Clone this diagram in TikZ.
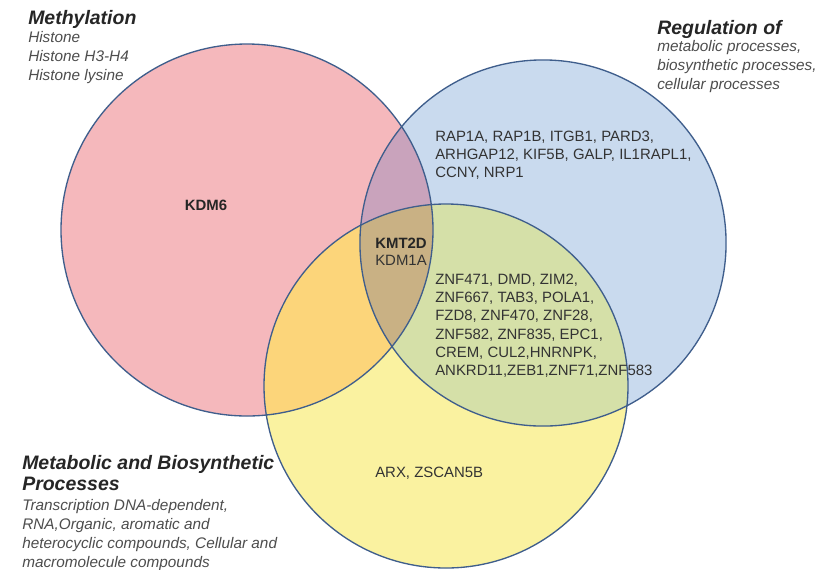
\documentclass[tikz,border=0pt]{standalone}
\usepackage{fontspec}
\setmainfont{Liberation Sans}
\usetikzlibrary{positioning}

\definecolor{methfill}{HTML}{F5B8BC}
\definecolor{regfill}{HTML}{C9DAEE}
\definecolor{metafill}{HTML}{FAF2A0}
\definecolor{methreg}{HTML}{C9A3BC}
\definecolor{methmeta}{HTML}{FCD57A}
\definecolor{regmeta}{HTML}{D5E0A8}
\definecolor{allthree}{HTML}{C9B184}
\definecolor{rim}{HTML}{3F5E8C}
\definecolor{headtext}{HTML}{262626}
\definecolor{subtext}{HTML}{4D4D4D}
\definecolor{genetext}{HTML}{333333}

\begin{document}
\begin{tikzpicture}[x=0.75pt,y=-0.75pt,
		every node/.style={inner sep=0pt},
		head/.style={text=headtext,font=\fontsize{14.6}{15.8}\selectfont\bfseries\itshape,align=left},
		sub/.style={text=subtext,font=\fontsize{11.5}{14.25}\selectfont\itshape,align=left},
		genes/.style={text=genetext,font=\fontsize{11.2}{13.6}\selectfont,align=left},
		keygene/.style={text=headtext,font=\fontsize{11.2}{13.6}\selectfont\bfseries},
		rimline/.style={draw=rim,line width=1pt}]
	\fill[white] (0,0) rectangle (837,569);
	\useasboundingbox (0,0) rectangle (837,569);
	% centres of the three sets
	\coordinate (meth) at (247,230);
	\coordinate (reg) at (543,243);
	\coordinate (meta) at (446,386);
	\def\rmeth{139.5pt}\def\rreg{137.3pt}\def\rmeta{136.5pt}
	% single sets
	\fill[methfill] (meth) circle[radius=\rmeth];
	\fill[regfill] (reg) circle[radius=\rreg];
	\fill[metafill] (meta) circle[radius=\rmeta];
	% pairwise overlaps
	\begin{scope}
		\clip (meth) circle[radius=\rmeth];
		\fill[methreg] (reg) circle[radius=\rreg];
		\fill[methmeta] (meta) circle[radius=\rmeta];
	\end{scope}
	\begin{scope}
		\clip (reg) circle[radius=\rreg];
		\fill[regmeta] (meta) circle[radius=\rmeta];
	\end{scope}
	\begin{scope}
		\clip (meth) circle[radius=\rmeth];
		\clip (reg) circle[radius=\rreg];
		\fill[allthree] (meta) circle[radius=\rmeta];
	\end{scope}
	% outlines
	\draw[rimline] (meth) circle[radius=\rmeth];
	\draw[rimline] (reg) circle[radius=\rreg];
	\draw[rimline] (meta) circle[radius=\rmeta];

	% set titles
	\node[head,anchor=base west] (methhead) at (28,24) {Methylation};
	\node[sub,below right=2pt and 0pt of methhead.south west] (methsub)
	{Histone\\Histone H3-H4\\Histone lysine};
	\node[head,anchor=base west] (reghead) at (657,34) {Regulation of};
	\node[sub,below right=1.5pt and 0pt of reghead.south west] (regsub)
	{metabolic processes,\\biosynthetic processes,\\cellular processes};
	\node[head,anchor=north west] (metahead) at (22,455)
	{Metabolic and Biosynthetic\\Processes};
	\node[sub,below right=6pt and 0pt of metahead.south west] (metasub)
	{Transcription DNA-dependent,\\RNA,Organic, aromatic and\\heterocyclic compounds, Cellular and\\macromolecule compounds};

	% genes
	\node[keygene] (kdm6) at (206,205) {KDM6};
	\node[keygene] (kmt2d) at (401,243) {KMT2D};
	\node[genes,below=5pt of kmt2d] (kdm1a) {KDM1A};
	\node[genes,anchor=north west] (reggenes) at (435,131)
	{RAP1A, RAP1B, ITGB1, PARD3,\\ARHGAP12, KIF5B, GALP, IL1RAPL1,\\CCNY, NRP1};
	\node[genes,anchor=north west] (regmetagenes) at (435,274)
	{ZNF471, DMD, ZIM2,\\ZNF667, TAB3, POLA1,\\FZD8, ZNF470, ZNF28,\\ZNF582, ZNF835, EPC1,\\CREM, CUL2,HNRNPK,\\ANKRD11,ZEB1,ZNF71,ZNF583};
	\node[genes,anchor=west] (metagenes) at (375,473) {ARX, ZSCAN5B};
\end{tikzpicture}
\end{document}
